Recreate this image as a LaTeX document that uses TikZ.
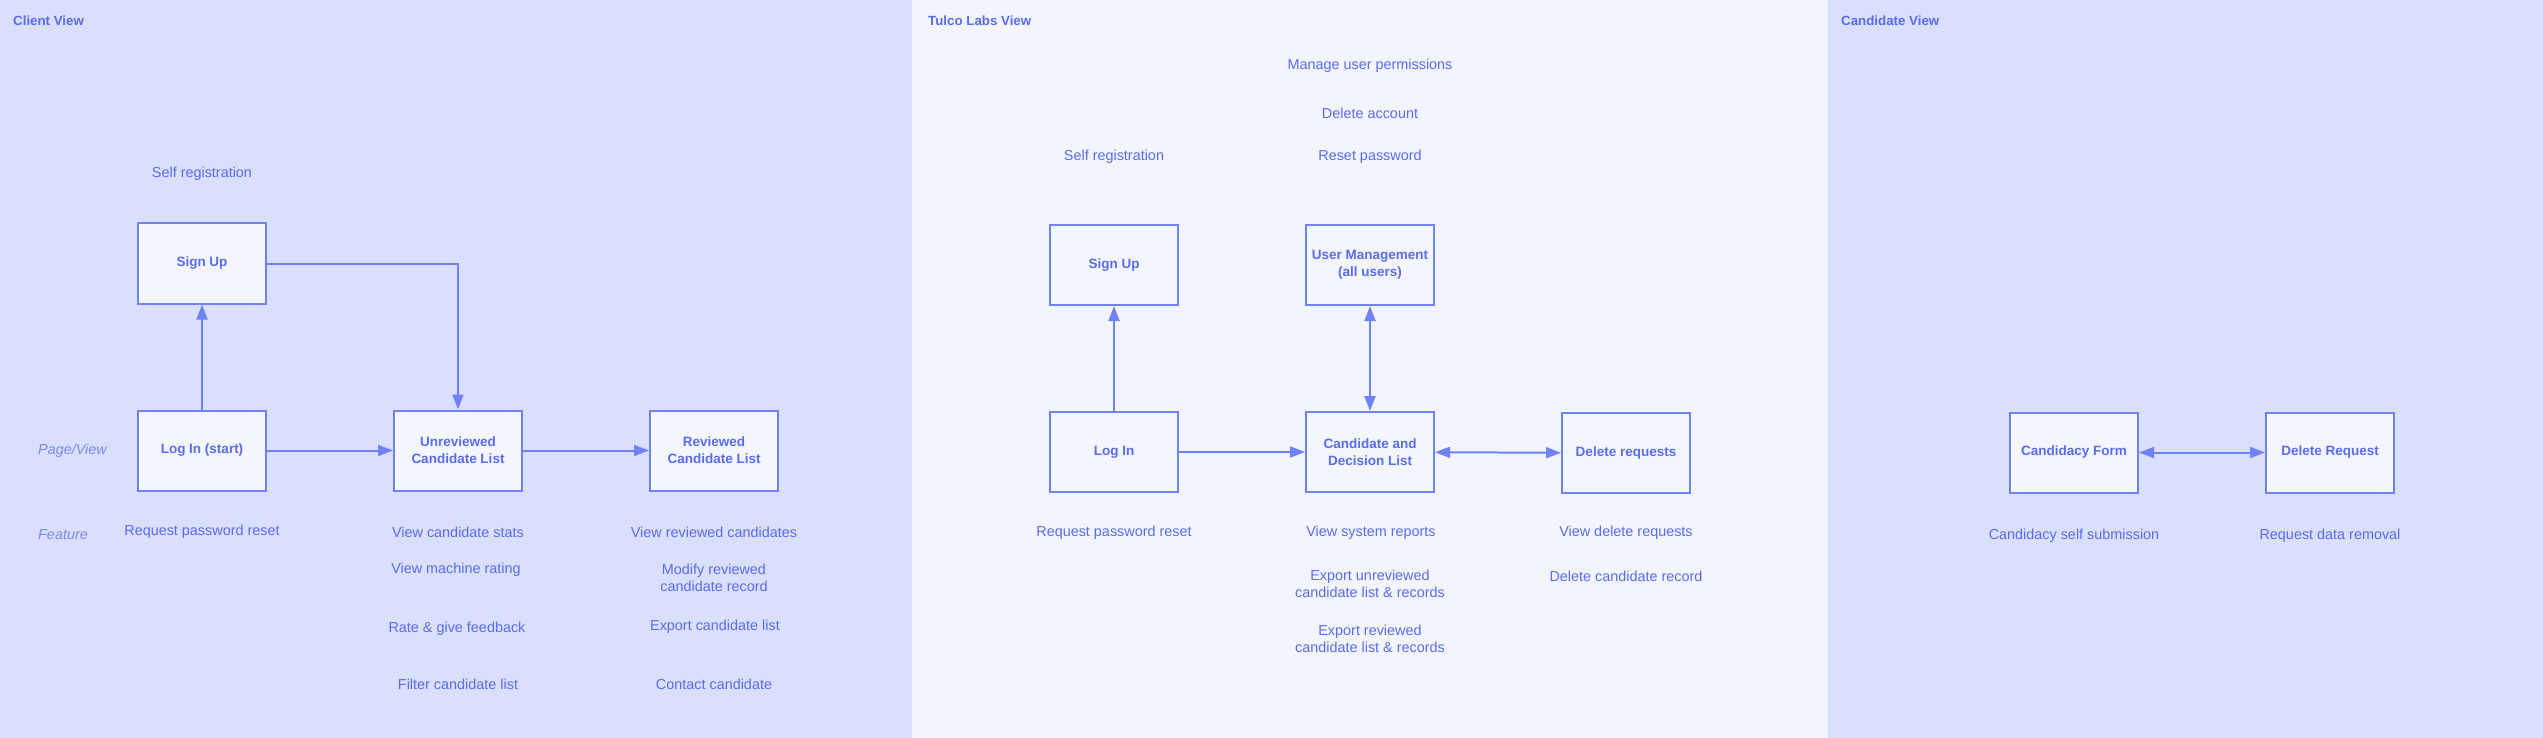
\documentclass[tikz,border=0pt]{standalone}
\usepackage{fontspec}
\setmainfont{Liberation Sans}
\usepackage{tikz}
\usetikzlibrary{arrows.meta,shapes}
\definecolor{bgdark}{HTML}{D9DFFD}
\definecolor{bglight}{HTML}{F2F5FE}
\definecolor{boxfill}{HTML}{F4F6FE}
\definecolor{linecol}{HTML}{7082F7}
\definecolor{textcol}{HTML}{5A6CF2}
\definecolor{tagcol}{HTML}{7D8AEE}
\tikzset{page/.style={draw=linecol, fill=boxfill, line width=2pt,
    minimum width=128pt, minimum height=80pt, inner sep=0pt, align=center,
    text=textcol, font=\fontsize{13.5}{17}\selectfont\bfseries},
    feat/.style={text=textcol, align=center, inner sep=0pt,
    font=\fontsize{14.4}{17}\selectfont},
    tag/.style={text=tagcol, anchor=west, inner sep=0pt,
    font=\fontsize{14.4}{17}\selectfont\itshape},
    title/.style={text=textcol, anchor=west, inner sep=0pt,
    font=\fontsize{13.3}{16}\selectfont\bfseries},
    arr/.style={draw=linecol, line width=2pt,
    -{Triangle[length=15pt,width=11pt]}},
    darr/.style={draw=linecol, line width=2pt,
    {Triangle[length=15pt,width=11pt]}-{Triangle[length=15pt,width=11pt]}},}
\begin{document}
\begin{tikzpicture}[x=1pt,y=-1pt]
  \useasboundingbox (0,0) rectangle (2543,738);
  \fill[bgdark] (0,0) rectangle (912,738);
  \fill[bglight] (912,0) rectangle (1828,738);
  \fill[bgdark] (1828,0) rectangle (2543,738);
  \node[title] (t1) at (13,21) {Client View};
  \node[title] (t2) at (928,21) {Tulco Labs View};
  \node[title] (t3) at (1841,21) {Candidate View};
  % client view
  \node[tag] (pv) at (38,451) {Page/View};
  \node[tag] (ft) at (38,535) {Feature};
  \node[page] (c1) at (202,263.5) {Sign Up};
  \node[page] (c2) at (202,450.5) {Log In (start)};
  \node[page] (c3) at (458,450.5) {Unreviewed\\Candidate List};
  \node[page] (c4) at (714,450.5) {Reviewed\\Candidate List};
  \node[feat] (c5) at (202,174) {Self registration};
  \node[feat] (c6) at (202,532) {Request password reset};
  \node[feat] (c7) at (458,532) {View candidate stats};
  \node[feat] (c8) at (456,570) {View machine rating};
  \node[feat] (c9) at (457,629) {Rate \& give feedback};
  \node[feat] (c10) at (458,684) {Filter candidate list};
  \node[feat] (c11) at (714,532) {View reviewed candidates};
  \node[feat] (c12) at (714,578) {Modify reviewed\\candidate record};
  \node[feat] (c13) at (715,627) {Export candidate list};
  \node[feat] (c14) at (714,684) {Contact candidate};
  \draw[arr] (c2)--(c1);
  \draw[arr] (c1.east) -| (c3.north);
  \draw[arr] (c2)--(c3);
  \draw[arr] (c3)--(c4);
  % tulco labs view
  \node[page] (l1) at (1114,265) {Sign Up};
  \node[page] (l2) at (1370,265) {User Management\\(all users)};
  \node[page] (l3) at (1114,452) {Log In};
  \node[page] (l4) at (1370,452) {Candidate and\\Decision List};
  \node[page] (l5) at (1626,453) {Delete requests};
  \node[feat] (l6) at (1370,66) {Manage user permissions};
  \node[feat] (l7) at (1370,113) {Delete account};
  \node[feat] (l8) at (1370,157) {Reset password};
  \node[feat] (l9) at (1114,157) {Self registration};
  \node[feat] (l10) at (1114,533) {Request password reset};
  \node[feat] (l11) at (1371,533) {View system reports};
  \node[feat] (l12) at (1370,584) {Export unreviewed\\candidate list \& records};
  \node[feat] (l13) at (1370,639) {Export reviewed\\candidate list \& records};
  \node[feat] (l14) at (1626,533) {View delete requests};
  \node[feat] (l15) at (1626,576) {Delete candidate record};
  \draw[arr] (l3)--(l1);
  \draw[arr] (l3)--(l4);
  \draw[darr] (l2)--(l4);
  \draw[darr] (l4)--(l5);
  % candidate view
  \node[page] (v1) at (2074,452.5) {Candidacy Form};
  \node[page] (v2) at (2330,452.5) {Delete Request};
  \node[feat] (v3) at (2074,536) {Candidacy self submission};
  \node[feat] (v4) at (2330,536) {Request data removal};
  \draw[darr] (v1)--(v2);
\end{tikzpicture}
\end{document}
